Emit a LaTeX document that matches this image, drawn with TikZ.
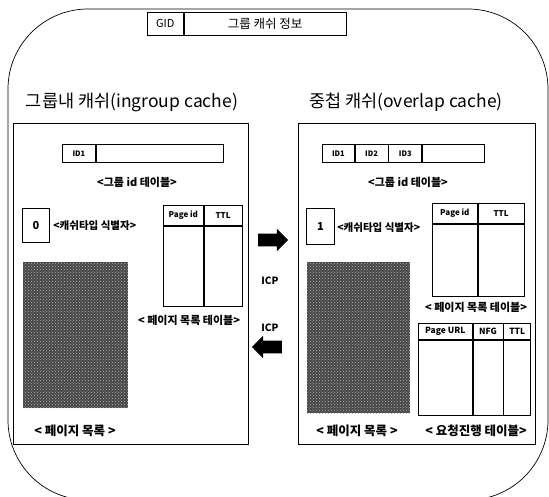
\documentclass[tikz,border=0pt]{standalone}
\usepackage{fontspec}
\newfontfamily\krfont{Noto Sans CJK KR}
\usetikzlibrary{positioning, shapes.arrows, patterns}

\begin{document}
\begin{tikzpicture}[x=1pt, y=-1pt, font=\krfont, line width=0.7pt,
  box/.style={draw, inner sep=0pt, anchor=north west},
  cell/.style={draw, inner sep=0pt},
  panel/.style={draw, line width=1pt, inner sep=0pt, anchor=north west},
  big/.style={inner sep=0pt, font=\krfont\fontsize{17.5}{18}\selectfont},
  lbl/.style={inner sep=0pt, font=\krfont\bfseries\fontsize{11}{11}\selectfont},
  small/.style={font=\krfont\bfseries\fontsize{7.5}{8}\selectfont},
  hatch/.style={box, draw=none, preaction={fill=black!72}, pattern=crosshatch dots, pattern color=white!70!black},
  icparrow/.style={single arrow, fill=black, draw=none, inner xsep=0pt, inner ysep=6pt, minimum height=30pt, minimum width=22pt, single arrow head extend=5pt}]
\useasboundingbox (0,0) rectangle (549,496);
\draw[rounded corners=80pt] (8,9) rectangle (548,500);

% group cache info
\node[box, minimum width=36pt, minimum height=23pt, font=\krfont\fontsize{11}{11}\selectfont] (gid) at (147,12) {GID};
\node[cell, right=0pt of gid, minimum width=162pt, minimum height=23pt, font=\krfont\fontsize{12.5}{13}\selectfont] (ginfo) {그룹 캐쉬 정보};

\node[big] (tin) at (132,102) {그룹내 캐쉬(ingroup cache)};
\node[big] (tov) at (406,102) {중첩 캐쉬(overlap cache)};

% ingroup cache
\node[panel, minimum width=235pt, minimum height=321pt] (inp) at (13,123) {};
\node[box, small, minimum width=33pt, minimum height=18pt] (lid1) at (62,144) {ID1};
\node[cell, right=0pt of lid1, minimum width=127pt, minimum height=18pt] (lidx) {};
\node[lbl] (lgid) at (137,182) {<그룹 id 테이블>};
\node[box, minimum width=27pt, minimum height=34pt, font=\krfont\bfseries\fontsize{11}{11}\selectfont] (ltype) at (22,208) {0};
\node[lbl, anchor=west, font=\krfont\bfseries\fontsize{10.5}{11}\selectfont] (ltypel) at (53,226) {<캐쉬타입 식별자>};
\node[box, small, font=\krfont\bfseries\fontsize{8}{8}\selectfont, minimum width=40pt, minimum height=20pt] (lpid) at (163,205) {Page id};
\node[cell, small, font=\krfont\bfseries\fontsize{8}{8}\selectfont, right=0pt of lpid, minimum width=38pt, minimum height=20pt] (lttl) {TTL};
\node[cell, below=0pt of lpid, minimum width=40pt, minimum height=80pt] (lpidb) {};
\node[cell, below=0pt of lttl, minimum width=38pt, minimum height=80pt] (lttlb) {};
\node[lbl] (lptab) at (189,320) {< 페이지 목록 테이블>};
\node[hatch, minimum width=105pt, minimum height=146pt] (lpage) at (23,262) {};
\node[lbl, font=\krfont\bfseries\fontsize{12.5}{13}\selectfont] (lpagel) at (75,431) {< 페이지 목록 >};

% ICP
\node[icparrow] (toright) at (270,240) {};
\node[lbl, font=\krfont\bfseries\fontsize{10}{10}\selectfont] (icp1) at (270,281) {ICP};
\node[lbl, font=\krfont\bfseries\fontsize{10}{10}\selectfont] (icp2) at (270,328) {ICP};
\node[icparrow, shape border rotate=180] (toleft) at (270,347) {};

% overlap cache
\node[panel, minimum width=237pt, minimum height=321pt] (ovp) at (298,123) {};
\node[box, small, minimum width=32pt, minimum height=18pt] (rid1) at (322,144) {ID1};
\node[cell, small, right=0pt of rid1, minimum width=33pt, minimum height=18pt] (rid2) {ID2};
\node[cell, small, right=0pt of rid2, minimum width=33pt, minimum height=18pt] (rid3) {ID3};
\node[cell, right=0pt of rid3, minimum width=62pt, minimum height=18pt] (ridx) {};
\node[lbl] (rgid) at (408,182) {<그룹 id 테이블>};
\node[box, minimum width=28pt, minimum height=36pt, font=\krfont\bfseries\fontsize{11}{11}\selectfont] (rtype) at (306,208) {1};
\node[lbl, anchor=west, font=\krfont\bfseries\fontsize{10.5}{11}\selectfont] (rtypel) at (337,228) {<캐쉬타입 식별자>};
\node[box, small, font=\krfont\bfseries\fontsize{8}{8}\selectfont, minimum width=45pt, minimum height=20pt] (rpid) at (432,203) {Page id};
\node[cell, small, font=\krfont\bfseries\fontsize{8}{8}\selectfont, right=0pt of rpid, minimum width=46pt, minimum height=20pt] (rttl) {TTL};
\node[cell, below=0pt of rpid, minimum width=45pt, minimum height=72pt] (rpidb) {};
\node[cell, below=0pt of rttl, minimum width=46pt, minimum height=72pt] (rttlb) {};
\node[lbl] (rptab) at (476,307) {< 페이지 목록 테이블>};
\node[box, font=\krfont\bfseries\fontsize{8.5}{9}\selectfont, minimum width=54pt, minimum height=16pt] (url) at (418,323) {Page URL};
\node[cell, right=0pt of url, font=\krfont\bfseries\fontsize{8.5}{9}\selectfont, minimum width=30pt, minimum height=16pt] (nfg) {NFG};
\node[cell, right=0pt of nfg, font=\krfont\bfseries\fontsize{8.5}{9}\selectfont, minimum width=27pt, minimum height=16pt] (uttl) {TTL};
\node[cell, below=0pt of url, minimum width=54pt, minimum height=75pt] (urlb) {};
\node[cell, below=0pt of nfg, minimum width=30pt, minimum height=75pt] (nfgb) {};
\node[cell, below=0pt of uttl, minimum width=27pt, minimum height=75pt] (uttlb) {};
\node[hatch, minimum width=103pt, minimum height=151pt] (rpage) at (307,262) {};
\node[lbl, font=\krfont\bfseries\fontsize{12.5}{13}\selectfont] (rpagel) at (357,431) {< 페이지 목록 >};
\node[lbl, font=\krfont\bfseries\fontsize{12.5}{13}\selectfont] (rreq) at (476,431) {< 요청진행 테이블>};
\end{tikzpicture}
\end{document}
